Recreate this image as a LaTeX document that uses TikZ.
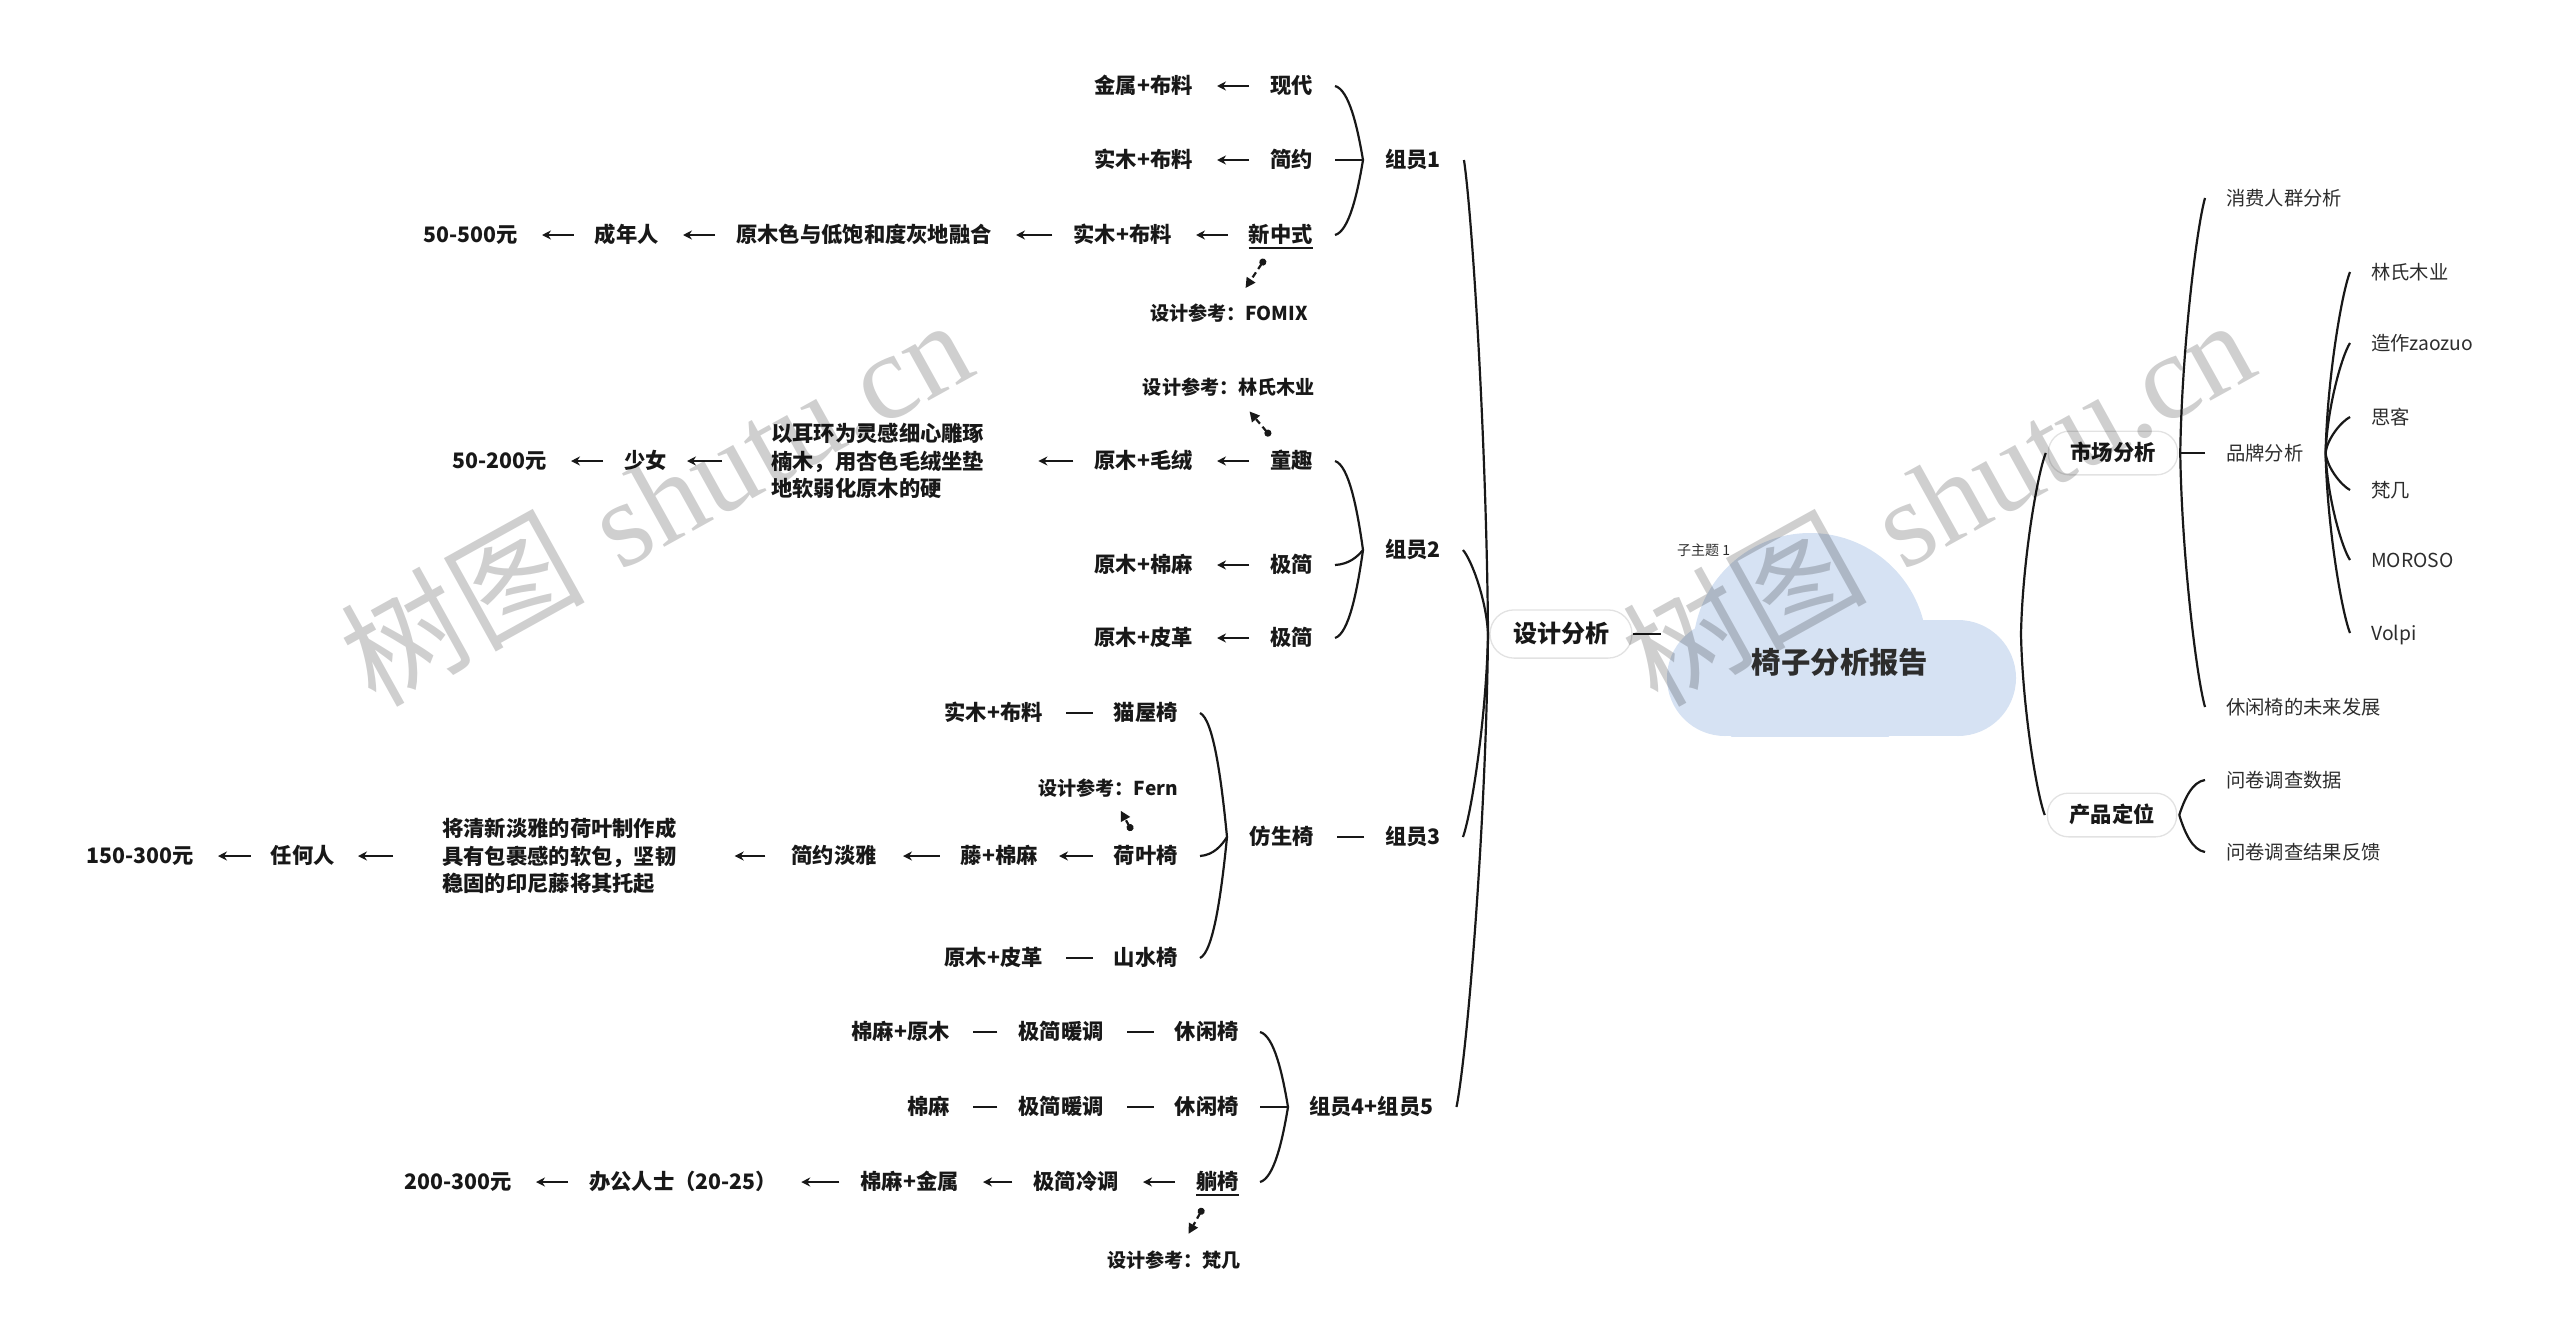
\documentclass[tikz,border=0pt]{standalone}
\usepackage{fontspec}
\newfontfamily\cjk{Noto Sans CJK SC}
\newfontfamily\wmlat{Liberation Serif}
\usetikzlibrary{arrows.meta,calc}
\definecolor{ink}{RGB}{24,24,24}
\definecolor{ink2}{RGB}{45,45,45}
\definecolor{cloudblue}{RGB}{214,226,243}
\definecolor{pillline}{RGB}{226,226,226}
% branch curve: #1 tip, #2 end, #3..#6 shape factors
\newcommand\mmbranch[6]{\draw[brl] let \p1=(#1), \p2=(#2) in (\p2) .. controls ({\x2+#3*(\x1-\x2)},{\y2+#4*(\y1-\y2)}) and ({\x1-#5*(\x1-\x2)},{\y1-#6*(\y1-\y2)}) .. (\p1);}
\newcommand\mmgroup[2]{\mmbranch{#1}{#2}{0.5}{0.05}{0.2}{0.45}}
\newcommand\mmtrunk[2]{\mmbranch{#1}{#2}{0.35}{0.12}{0.06}{0.4}}
\begin{document}
\begin{tikzpicture}[x=1pt,y=-1pt,
 lb/.style={font=\cjk\bfseries\fontsize{21.3}{26}\selectfont,text=ink,inner sep=0pt,text height=17.7pt,text depth=2pt},
 blk/.style={font=\cjk\bfseries\fontsize{21.3}{27.5}\selectfont,text=ink,inner sep=0pt,align=left},
 rf/.style={font=\cjk\bfseries\fontsize{19.1}{24}\selectfont,text=ink,inner sep=0pt,text height=15.9pt,text depth=1.8pt},
 rt/.style={font=\cjk\fontsize{19.3}{24}\selectfont,text=ink2,inner sep=0pt,text height=16pt,text depth=1.8pt},
 pill/.style={lb,draw=pillline,line width=1.3pt,fill=white,rounded corners=21pt,inner xsep=22pt,inner ysep=12pt},
 larr/.style={draw=ink,line width=2pt,arrows={-Stealth[length=9pt,width=9pt]},shorten <=21pt,shorten >=24pt},
 dsh/.style={draw=ink,line width=2.4pt,shorten <=21pt,shorten >=23pt},
 brl/.style={draw=ink,line width=2.2pt},
 refarr/.style={draw=ink,line width=2.2pt,dash pattern=on 6pt off 4pt,arrows={Circle[length=7pt]-Triangle[length=10pt,width=10pt]}},
 wmk/.style={rotate=29,text=black,text opacity=0.19,inner sep=0pt,font=\fontsize{122}{122}\selectfont},
]
\useasboundingbox (0,0) rectangle (2560,1344);
% ---------- cloud ----------
\fill[cloudblue] (1725,678) circle (58pt);
\begin{scope}
\clip (1600,480) rectangle (2100,736);
\fill[cloudblue] (1810,650) circle (117pt);
\end{scope}
\fill[cloudblue] (1958,678) circle (58pt);
\fill[cloudblue] (1725,620) rectangle (1958,736);
\node[font=\cjk\bfseries\fontsize{29.4}{34}\selectfont,text=ink2,inner sep=0pt,text height=24.4pt,text depth=2.8pt] (root) at (1840,663) {椅子分析报告};
\node[font=\cjk\fontsize{14}{16}\selectfont,text=ink2,inner sep=0pt,anchor=west] (sub1) at (1677,550) {子主题 1};

% ---------- group 1 ----------
\node[lb,anchor=east] (g1a) at (1313,86) {现代};
\node[lb,anchor=east] (g1a1) at (1193,86) {金属+布料};
\node[lb,anchor=east] (g1b) at (1313,160) {简约};
\node[lb,anchor=east] (g1b1) at (1193,160) {实木+布料};
\node[lb,anchor=east] (g1c) at (1313,235) {新中式};
\node[lb,anchor=east] (g1c1) at (1172,235) {实木+布料};
\node[lb,anchor=east] (g1c2) at (992,235) {原木色与低饱和度灰地融合};
\node[lb,anchor=east] (g1c3) at (659,235) {成年人};
\node[lb,anchor=east] (g1c4) at (518,235) {50-500元};
\node[rf,anchor=east] (r1) at (1308,313) {设计参考：FOMIX};
\node[lb,anchor=west] (g1) at (1385,160) {组员1};

% ---------- group 2 ----------
\node[rf,anchor=east] (r2) at (1315,387) {设计参考：林氏木业};
\node[lb,anchor=east] (g2a) at (1313,461) {童趣};
\node[lb,anchor=east] (g2a1) at (1193,461) {原木+毛绒};
\node[blk,anchor=west] (g2a2) at (771,461) {以耳环为灵感细心雕琢\\楠木，用杏色毛绒坐垫\\地软弱化原木的硬};
\node[lb,anchor=east] (g2a3) at (667,461) {少女};
\node[lb,anchor=east] (g2a4) at (547,461) {50-200元};
\node[lb,anchor=east] (g2b) at (1313,565) {极简};
\node[lb,anchor=east] (g2b1) at (1193,565) {原木+棉麻};
\node[lb,anchor=east] (g2c) at (1313,638) {极简};
\node[lb,anchor=east] (g2c1) at (1193,638) {原木+皮革};
\node[lb,anchor=west] (g2) at (1385,550) {组员2};

% ---------- design analysis ----------
\node[pill,font=\cjk\bfseries\fontsize{24}{28}\selectfont,text height=19.9pt,text depth=2.3pt,inner xsep=23pt,inner ysep=13pt,rounded corners=24pt] (dsgn) at (1561,634) {设计分析};

% ---------- group 3 ----------
\node[lb,anchor=west] (g3) at (1385,837) {组员3};
\node[lb,anchor=east] (g3m) at (1314,837) {仿生椅};
\node[lb,anchor=east] (g3a) at (1178,713) {猫屋椅};
\node[lb,anchor=east] (g3a1) at (1043,713) {实木+布料};
\node[rf,anchor=east] (r3) at (1178,788) {设计参考：Fern};
\node[lb,anchor=east] (g3b) at (1178,856) {荷叶椅};
\node[lb,anchor=east] (g3b1) at (1038,856) {藤+棉麻};
\node[lb,anchor=east] (g3b2) at (877,856) {简约淡雅};
\node[blk,anchor=west] (g3b3) at (442,856) {将清新淡雅的荷叶制作成\\具有包裹感的软包，坚韧\\稳固的印尼藤将其托起};
\node[lb,anchor=east] (g3b4) at (335,856) {任何人};
\node[lb,anchor=east] (g3b5) at (194,856) {150-300元};
\node[lb,anchor=east] (g3c) at (1178,958) {山水椅};
\node[lb,anchor=east] (g3c1) at (1043,958) {原木+皮革};

% ---------- group 4+5 ----------
\node[lb,anchor=west] (g4) at (1309,1107) {组员4+组员5};
\node[lb,anchor=east] (g4a) at (1239,1032) {休闲椅};
\node[lb,anchor=east] (g4a1) at (1104,1032) {极简暖调};
\node[lb,anchor=east] (g4a2) at (950,1032) {棉麻+原木};
\node[lb,anchor=east] (g4b) at (1239,1107) {休闲椅};
\node[lb,anchor=east] (g4b1) at (1104,1107) {极简暖调};
\node[lb,anchor=east] (g4b2) at (950,1107) {棉麻};
\node[lb,anchor=east] (g4c) at (1239,1182) {躺椅};
\node[lb,anchor=east] (g4c1) at (1119,1182) {极简冷调};
\node[lb,anchor=east] (g4c2) at (959,1182) {棉麻+金属};
\node[lb,anchor=west] (g4c3) at (589,1182) {办公人士（20-25）};
\node[lb,anchor=east] (g4c4) at (512,1182) {200-300元};
\node[rf,anchor=east] (r4) at (1241,1260) {设计参考：梵几};

% ---------- right side ----------
\node[pill] (mkt) at (2113,453) {市场分析};
\node[pill] (pos) at (2112,815) {产品定位};
\node[rt,anchor=west] (m1) at (2226,198) {消费人群分析};
\node[rt,anchor=west] (m2) at (2226,453) {品牌分析};
\node[rt,anchor=west] (m3) at (2226,707) {休闲椅的未来发展};
\node[rt,anchor=west] (b1) at (2371,272) {林氏木业};
\node[rt,anchor=west] (b2) at (2371,343) {造作zaozuo};
\node[rt,anchor=west] (b3) at (2371,417) {思客};
\node[rt,anchor=west] (b4) at (2371,490) {梵几};
\node[rt,anchor=west] (b5) at (2371,560) {MOROSO};
\node[rt,anchor=west] (b6) at (2371,633) {Volpi};
\node[rt,anchor=west] (p1) at (2226,780) {问卷调查数据};
\node[rt,anchor=west] (p2) at (2226,852) {问卷调查结果反馈};

% ---------- branch tips ----------
\coordinate (t1) at (1363,160);
\coordinate (t2) at (1363,550);
\coordinate (t3) at (1227,837);
\coordinate (t4) at (1288,1107);
\coordinate (tl) at (1488,634);
\coordinate (tr) at (2021,634);
\coordinate (cl) at (1661,634);
\coordinate (tm) at ($(mkt.east)+(2,0)$);
\coordinate (tb) at ($(m2.east)+(22,0)$);
\coordinate (tp) at ($(pos.east)+(2,0)$);

% ---------- braces ----------
\mmgroup{t1}{$(g1a.east)+(22,0)$}
\mmgroup{t1}{$(g1b.east)+(22,0)$}
\mmgroup{t1}{$(g1c.east)+(22,0)$}
\mmgroup{t2}{$(g2a.east)+(22,0)$}
\mmgroup{t2}{$(g2b.east)+(22,0)$}
\mmgroup{t2}{$(g2c.east)+(22,0)$}
\mmgroup{t3}{$(g3a.east)+(22,0)$}
\mmgroup{t3}{$(g3b.east)+(22,0)$}
\mmgroup{t3}{$(g3c.east)+(22,0)$}
\mmgroup{t4}{$(g4a.east)+(21,0)$}
\mmgroup{t4}{$(g4b.east)+(21,0)$}
\mmgroup{t4}{$(g4c.east)+(21,0)$}
\mmtrunk{tl}{$(g1.east)+(23,0)$}
\mmtrunk{tl}{$(g2.east)+(22,0)$}
\mmtrunk{tl}{$(g3.east)+(22,0)$}
\mmtrunk{tl}{$(g4.east)+(23,0)$}
\mmtrunk{tr}{$(mkt.west)+(-2,0)$}
\mmtrunk{tr}{$(pos.west)+(-2,0)$}
\mmtrunk{tm}{$(m1.west)+(-21,0)$}
\mmtrunk{tm}{$(m2.west)+(-21,0)$}
\mmtrunk{tm}{$(m3.west)+(-21,0)$}
\mmtrunk{tb}{$(b1.west)+(-21,0)$}
\mmtrunk{tb}{$(b2.west)+(-21,0)$}
\mmtrunk{tb}{$(b3.west)+(-21,0)$}
\mmtrunk{tb}{$(b4.west)+(-21,0)$}
\mmtrunk{tb}{$(b5.west)+(-21,0)$}
\mmtrunk{tb}{$(b6.west)+(-21,0)$}
\mmgroup{tp}{$(p1.west)+(-21,0)$}
\mmgroup{tp}{$(p2.west)+(-21,0)$}
\draw[brl] (dsgn) -- (cl);

% ---------- row connectors ----------
\draw[larr] (g1a) -- (g1a1);
\draw[larr] (g1b) -- (g1b1);
\draw[larr] (g1c) -- (g1c1);
\draw[larr] (g1c1) -- (g1c2);
\draw[larr] (g1c2) -- (g1c3);
\draw[larr] (g1c3) -- (g1c4);
\draw[refarr,shorten <=29pt,shorten >=30pt] (g1c.center) -- (r1.center);

\draw[larr] (g2a) -- (g2a1);
\draw[larr,shorten >=54pt] (g2a1) -- (g2a2);
\draw[larr,shorten <=49pt,shorten >=20pt] (g2a2) -- (g2a3);
\draw[larr] (g2a3) -- (g2a4);
\draw[larr] (g2b) -- (g2b1);
\draw[larr] (g2c) -- (g2c1);
\draw[refarr,shorten <=33pt,shorten >=32pt] (g2a.center) -- (r2.center);

\draw[dsh] (g3) -- (g3m);
\draw[dsh] (g3a) -- (g3a1);
\draw[larr,shorten >=21pt] (g3b) -- (g3b1);
\draw[larr,shorten >=26pt] (g3b1) -- (g3b2);
\draw[larr,shorten <=26pt,shorten >=58pt] (g3b2) -- (g3b3);
\draw[larr,shorten <=49pt,shorten >=23pt] (g3b3) -- (g3b4);
\draw[larr,shorten <=20pt] (g3b4) -- (g3b5);
\draw[dsh] (g3c) -- (g3c1);
\draw[refarr,shorten <=29pt,shorten >=26pt] (g3b.center) -- (r3.center);

\draw[dsh] (g4a) -- (g4a1);
\draw[dsh] (g4a1) -- (g4a2);
\draw[dsh] (g4b) -- (g4b1);
\draw[dsh] (g4b1) -- (g4b2);
\draw[larr] (g4c) -- (g4c1);
\draw[larr] (g4c1) -- (g4c2);
\draw[larr] (g4c2) -- (g4c3);
\draw[larr] (g4c3) -- (g4c4);
\draw[refarr,shorten <=30pt,shorten >=30pt] (g4c.center) -- (r4.center);

% underlines (linked topics)
\draw[ink,line width=1.5pt] ($(g1c.south west)+(0,3)$) -- ($(g1c.south east)+(0,3)$);
\draw[ink,line width=1.5pt] ($(g4c.south west)+(0,3)$) -- ($(g4c.south east)+(0,3)$);

% ---------- watermark ----------
\node[wmk] (wm1) at (655,500) {{\cjk 树图} {\wmlat shutu.cn}};
\node[wmk] (wm2) at (1937,500) {{\cjk 树图} {\wmlat shutu.cn}};
\end{tikzpicture}
\end{document}
